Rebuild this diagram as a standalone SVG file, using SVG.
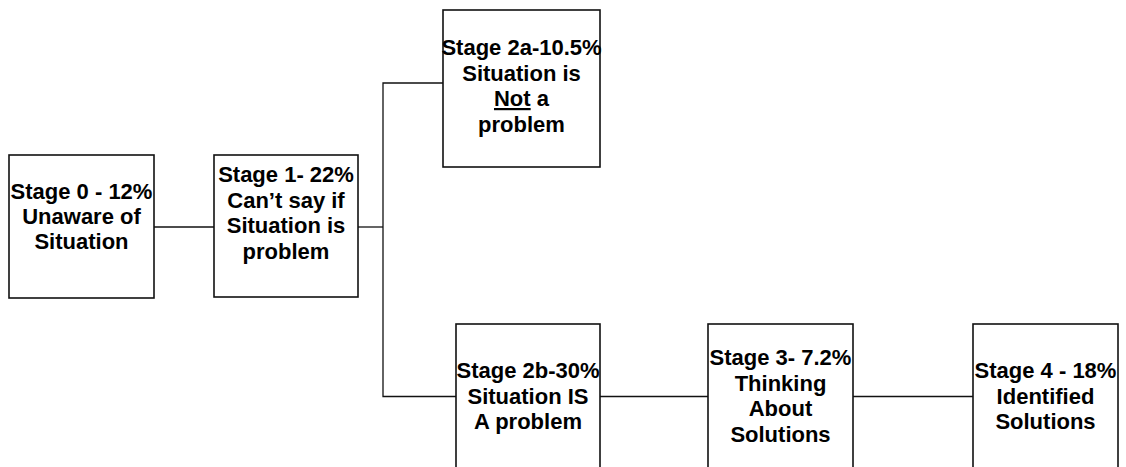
<svg xmlns="http://www.w3.org/2000/svg" width="1126" height="467" viewBox="0 0 1126 467">
<style>
.box{fill:#fff;stroke:#111;stroke-width:1.6}
.lbl{font-family:"Liberation Sans",Arial,sans-serif;font-weight:bold;font-size:22px;fill:#000;text-anchor:middle}
.con{fill:none;stroke:#111;stroke-width:1.3}
</style>
<rect width="1126" height="467" fill="#fff"/>
<g id="connectors">
<line class="con" x1="154" y1="227" x2="214" y2="227"/>
<line class="con" x1="358" y1="227" x2="383" y2="227"/>
<polyline class="con" points="443,83 383,83 383,396.5 456,396.5"/>
<line class="con" x1="600" y1="396.5" x2="708" y2="396.5"/>
<line class="con" x1="853" y1="396.5" x2="973" y2="396.5"/>
</g>
<g id="stage0">
<rect class="box" x="9" y="155" width="145" height="143"/>
<text class="lbl"><tspan x="81.5" y="199">Stage 0 - 12%</tspan><tspan x="81.5" y="224">Unaware of</tspan><tspan x="81.5" y="249">Situation</tspan></text>
</g>
<g id="stage1">
<rect class="box" x="214" y="155" width="144" height="142"/>
<text class="lbl"><tspan x="286" y="182">Stage 1- 22%</tspan><tspan x="286" y="207.5">Can’t say if</tspan><tspan x="286" y="233">Situation is</tspan><tspan x="286" y="258.5">problem</tspan></text>
</g>
<g id="stage2a">
<rect class="box" x="443" y="10" width="157" height="157"/>
<text class="lbl"><tspan x="521.5" y="55">Stage 2a-10.5%</tspan><tspan x="521.5" y="80.5">Situation is</tspan><tspan x="521.5" y="106"><tspan text-decoration="underline">Not</tspan> a</tspan><tspan x="521.5" y="131.5">problem</tspan></text>
</g>
<g id="stage2b">
<rect class="box" x="456" y="324" width="144" height="160"/>
<text class="lbl"><tspan x="528" y="378">Stage 2b-30%</tspan><tspan x="528" y="403.5">Situation IS</tspan><tspan x="528" y="429">A problem</tspan></text>
</g>
<g id="stage3">
<rect class="box" x="708" y="324" width="145" height="160"/>
<text class="lbl"><tspan x="780.5" y="365">Stage 3- 7.2%</tspan><tspan x="780.5" y="390.5">Thinking</tspan><tspan x="780.5" y="416">About</tspan><tspan x="780.5" y="441.5">Solutions</tspan></text>
</g>
<g id="stage4">
<rect class="box" x="973" y="324" width="145" height="160"/>
<text class="lbl"><tspan x="1045.5" y="378">Stage 4 - 18%</tspan><tspan x="1045.5" y="403.5">Identified</tspan><tspan x="1045.5" y="429">Solutions</tspan></text>
</g>
</svg>
